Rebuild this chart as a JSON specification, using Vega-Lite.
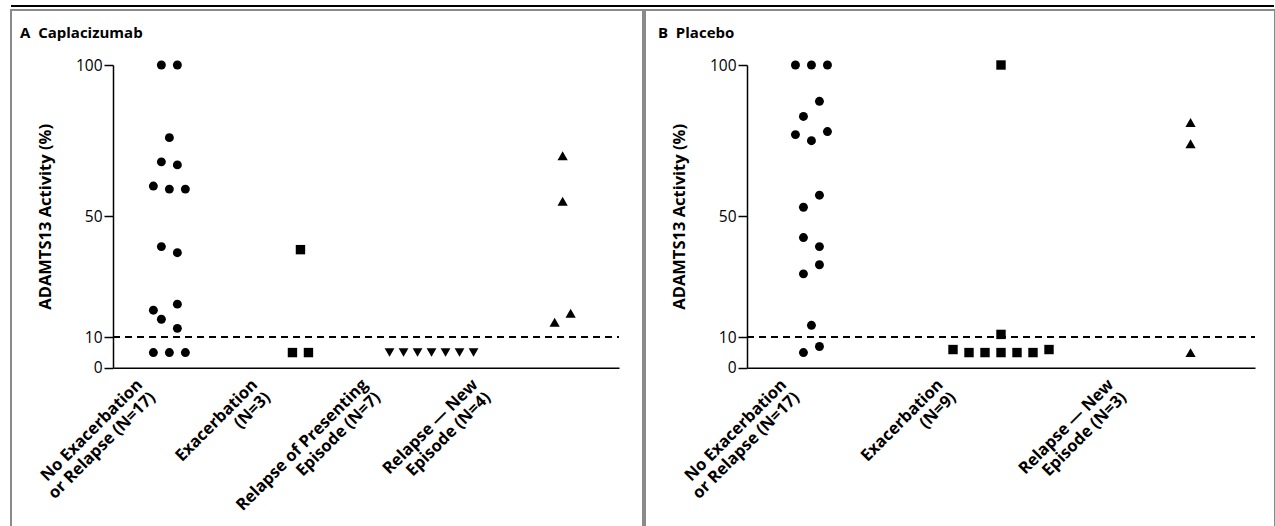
{
  "$schema": "https://vega.github.io/schema/vega-lite/v6.json",
  "padding": {"left": 10, "top": 5, "right": 0, "bottom": 0},
  "background": "white",
  "config": {"font": "Open Sans", "view": {"stroke": null}},
  "datasets": {
    "pts": [
      {"panel": "A", "group": "No Exacerbation|or Relapse (N=17)", "kind": "none", "value": 100, "jitter": -1},
      {"panel": "A", "group": "No Exacerbation|or Relapse (N=17)", "kind": "none", "value": 100, "jitter": 1},
      {"panel": "A", "group": "No Exacerbation|or Relapse (N=17)", "kind": "none", "value": 76, "jitter": 0},
      {"panel": "A", "group": "No Exacerbation|or Relapse (N=17)", "kind": "none", "value": 68, "jitter": -1},
      {"panel": "A", "group": "No Exacerbation|or Relapse (N=17)", "kind": "none", "value": 67, "jitter": 1},
      {"panel": "A", "group": "No Exacerbation|or Relapse (N=17)", "kind": "none", "value": 60, "jitter": -2},
      {"panel": "A", "group": "No Exacerbation|or Relapse (N=17)", "kind": "none", "value": 59, "jitter": 0},
      {"panel": "A", "group": "No Exacerbation|or Relapse (N=17)", "kind": "none", "value": 59, "jitter": 2},
      {"panel": "A", "group": "No Exacerbation|or Relapse (N=17)", "kind": "none", "value": 40, "jitter": -1},
      {"panel": "A", "group": "No Exacerbation|or Relapse (N=17)", "kind": "none", "value": 38, "jitter": 1},
      {"panel": "A", "group": "No Exacerbation|or Relapse (N=17)", "kind": "none", "value": 21, "jitter": 1},
      {"panel": "A", "group": "No Exacerbation|or Relapse (N=17)", "kind": "none", "value": 19, "jitter": -2},
      {"panel": "A", "group": "No Exacerbation|or Relapse (N=17)", "kind": "none", "value": 16, "jitter": -1},
      {"panel": "A", "group": "No Exacerbation|or Relapse (N=17)", "kind": "none", "value": 13, "jitter": 1},
      {"panel": "A", "group": "No Exacerbation|or Relapse (N=17)", "kind": "none", "value": 5, "jitter": -2},
      {"panel": "A", "group": "No Exacerbation|or Relapse (N=17)", "kind": "none", "value": 5, "jitter": 0},
      {"panel": "A", "group": "No Exacerbation|or Relapse (N=17)", "kind": "none", "value": 5, "jitter": 2},
      {"panel": "A", "group": "Exacerbation|(N=3)", "kind": "exac", "value": 39, "jitter": 0},
      {"panel": "A", "group": "Exacerbation|(N=3)", "kind": "exac", "value": 5, "jitter": -1},
      {"panel": "A", "group": "Exacerbation|(N=3)", "kind": "exac", "value": 5, "jitter": 1},
      {"panel": "A", "group": "Relapse of Presenting|Episode (N=7)", "kind": "present", "value": 5, "jitter": -5.25},
      {"panel": "A", "group": "Relapse of Presenting|Episode (N=7)", "kind": "present", "value": 5, "jitter": -3.5},
      {"panel": "A", "group": "Relapse of Presenting|Episode (N=7)", "kind": "present", "value": 5, "jitter": -1.75},
      {"panel": "A", "group": "Relapse of Presenting|Episode (N=7)", "kind": "present", "value": 5, "jitter": 0},
      {"panel": "A", "group": "Relapse of Presenting|Episode (N=7)", "kind": "present", "value": 5, "jitter": 1.75},
      {"panel": "A", "group": "Relapse of Presenting|Episode (N=7)", "kind": "present", "value": 5, "jitter": 3.5},
      {"panel": "A", "group": "Relapse of Presenting|Episode (N=7)", "kind": "present", "value": 5, "jitter": 5.25},
      {"panel": "A", "group": "Relapse — New|Episode (N=4)", "kind": "new", "value": 70, "jitter": 0},
      {"panel": "A", "group": "Relapse — New|Episode (N=4)", "kind": "new", "value": 55, "jitter": 0},
      {"panel": "A", "group": "Relapse — New|Episode (N=4)", "kind": "new", "value": 18, "jitter": 1},
      {"panel": "A", "group": "Relapse — New|Episode (N=4)", "kind": "new", "value": 15, "jitter": -1},
      {"panel": "B", "group": "No Exacerbation|or Relapse (N=17)", "kind": "none", "value": 100, "jitter": -2},
      {"panel": "B", "group": "No Exacerbation|or Relapse (N=17)", "kind": "none", "value": 100, "jitter": 0},
      {"panel": "B", "group": "No Exacerbation|or Relapse (N=17)", "kind": "none", "value": 100, "jitter": 2},
      {"panel": "B", "group": "No Exacerbation|or Relapse (N=17)", "kind": "none", "value": 88, "jitter": 1},
      {"panel": "B", "group": "No Exacerbation|or Relapse (N=17)", "kind": "none", "value": 83, "jitter": -1},
      {"panel": "B", "group": "No Exacerbation|or Relapse (N=17)", "kind": "none", "value": 78, "jitter": 2},
      {"panel": "B", "group": "No Exacerbation|or Relapse (N=17)", "kind": "none", "value": 77, "jitter": -2},
      {"panel": "B", "group": "No Exacerbation|or Relapse (N=17)", "kind": "none", "value": 75, "jitter": 0},
      {"panel": "B", "group": "No Exacerbation|or Relapse (N=17)", "kind": "none", "value": 57, "jitter": 1},
      {"panel": "B", "group": "No Exacerbation|or Relapse (N=17)", "kind": "none", "value": 53, "jitter": -1},
      {"panel": "B", "group": "No Exacerbation|or Relapse (N=17)", "kind": "none", "value": 43, "jitter": -1},
      {"panel": "B", "group": "No Exacerbation|or Relapse (N=17)", "kind": "none", "value": 40, "jitter": 1},
      {"panel": "B", "group": "No Exacerbation|or Relapse (N=17)", "kind": "none", "value": 34, "jitter": 1},
      {"panel": "B", "group": "No Exacerbation|or Relapse (N=17)", "kind": "none", "value": 31, "jitter": -1},
      {"panel": "B", "group": "No Exacerbation|or Relapse (N=17)", "kind": "none", "value": 14, "jitter": 0},
      {"panel": "B", "group": "No Exacerbation|or Relapse (N=17)", "kind": "none", "value": 7, "jitter": 1},
      {"panel": "B", "group": "No Exacerbation|or Relapse (N=17)", "kind": "none", "value": 5, "jitter": -1},
      {"panel": "B", "group": "Exacerbation|(N=9)", "kind": "exac", "value": 100, "jitter": 0},
      {"panel": "B", "group": "Exacerbation|(N=9)", "kind": "exac", "value": 11, "jitter": 0},
      {"panel": "B", "group": "Exacerbation|(N=9)", "kind": "exac", "value": 6, "jitter": -6},
      {"panel": "B", "group": "Exacerbation|(N=9)", "kind": "exac", "value": 5, "jitter": -4},
      {"panel": "B", "group": "Exacerbation|(N=9)", "kind": "exac", "value": 5, "jitter": -2},
      {"panel": "B", "group": "Exacerbation|(N=9)", "kind": "exac", "value": 5, "jitter": 0},
      {"panel": "B", "group": "Exacerbation|(N=9)", "kind": "exac", "value": 5, "jitter": 2},
      {"panel": "B", "group": "Exacerbation|(N=9)", "kind": "exac", "value": 5, "jitter": 4},
      {"panel": "B", "group": "Exacerbation|(N=9)", "kind": "exac", "value": 6, "jitter": 6},
      {"panel": "B", "group": "Relapse — New|Episode (N=3)", "kind": "new", "value": 81, "jitter": 0},
      {"panel": "B", "group": "Relapse — New|Episode (N=3)", "kind": "new", "value": 74, "jitter": 0},
      {"panel": "B", "group": "Relapse — New|Episode (N=3)", "kind": "new", "value": 5, "jitter": 0}
    ]
  },
  "vconcat": [
    {
      "width": 1263,
      "height": 2,
      "view": {"fill": "black", "stroke": null},
      "data": {"values": []},
      "mark": {"type": "rule"},
      "encoding": {}
    },
    {
      "hconcat": [
        {
          "width": 632,
          "height": 530,
          "view": {"stroke": "#8a8a8a", "strokeWidth": 2},
          "title": {"text": "A\u00a0\u00a0Caplacizumab", "anchor": "start", "frame": "group", "orient": "top", "offset": -26, "dy": 17, "baseline": "alphabetic", "dx": 9, "fontSize": 15, "fontWeight": "bold", "font": "Open Sans", "color": "black"},
          "data": {"name": "pts"},
          "transform": [{"filter": "datum.panel === 'A'"}],
          "layer": [
            {
              "mark": {"type": "point", "filled": true, "color": "black", "opacity": 1},
              "encoding": {
                "x": {"field": "group", "type": "nominal", "sort": null,
                  "scale": {"type": "point", "domain": ["No Exacerbation|or Relapse (N=17)", "Exacerbation|(N=3)", "Relapse of Presenting|Episode (N=7)", "Relapse — New|Episode (N=4)"], "range": [102, 608], "padding": 0.43},
                  "axis": {"title": null, "offset": -172.3, "ticks": false, "domainColor": "black", "domainWidth": 1.5, "labelAngle": -45, "labelAlign": "right", "labelBaseline": "middle", "labelFont": "Open Sans", "labelFontSize": 16.5, "labelFontWeight": "bold", "labelColor": "black", "labelExpr": "split(datum.label, '|')", "labelPadding": 14, "labelLineHeight": 18, "labelOverlap": false, "labelLimit": 0,
                    "labelOffset": {"condition": [
                      {"test": "datum.value === 'No Exacerbation|or Relapse (N=17)'", "value": -30},
                      {"test": "datum.value === 'Exacerbation|(N=3)'", "value": -46},
                      {"test": "datum.value === 'Relapse of Presenting|Episode (N=7)'", "value": -67}
                    ], "value": -88}}},
                "xOffset": {"field": "jitter", "type": "quantitative", "scale": {"domain": [-8, 8], "range": [-64, 64]}},
                "y": {"field": "value", "type": "quantitative",
                  "scale": {"domain": [0, 100], "range": [357.7, 55], "nice": false},
                  "axis": {"values": [0, 10, 50, 100], "offset": -102, "grid": false, "domainColor": "black", "domainWidth": 1.5, "tickColor": "black", "tickWidth": 1.5, "tickSize": 9, "labelFont": "Open Sans", "labelFontSize": 15.5, "labelColor": "black", "labelPadding": 2, "title": "ADAMTS13 Activity (%)", "titleFont": "Open Sans", "titleFontSize": 16.5, "titleFontWeight": "bold", "titleColor": "black", "titlePadding": 22}},
                "shape": {"field": "kind", "type": "nominal", "scale": {"domain": ["none", "exac", "present", "new"], "range": ["circle", "square", "triangle-down", "triangle-up"]}, "legend": null},
                "size": {"field": "kind", "type": "ordinal", "scale": {"domain": ["none", "exac", "present", "new"], "range": [80, 105, 85, 95]}, "legend": null}
              }
            },
            {
              "mark": {"type": "rule", "strokeDash": [7, 5], "strokeWidth": 1.2, "color": "black"},
              "encoding": {
                "y": {"datum": 10, "type": "quantitative"},
                "x": {"datum": 0, "type": "quantitative", "scale": {"domain": [0, 1], "range": [102, 608]}, "axis": null},
                "x2": {"datum": 1}
              }
            }
          ],
          "resolve": {"scale": {"x": "independent"}}
        },
        {
          "width": 630,
          "height": 530,
          "view": {"stroke": "#8a8a8a", "strokeWidth": 2},
          "title": {"text": "B\u00a0\u00a0Placebo", "anchor": "start", "frame": "group", "orient": "top", "offset": -26, "dy": 17, "baseline": "alphabetic", "dx": 13, "fontSize": 15, "fontWeight": "bold", "font": "Open Sans", "color": "black"},
          "data": {"name": "pts"},
          "transform": [{"filter": "datum.panel === 'B'"}],
          "layer": [
            {
              "mark": {"type": "point", "filled": true, "color": "black", "opacity": 1},
              "encoding": {
                "x": {"field": "group", "type": "nominal", "sort": null,
                  "scale": {"type": "point", "domain": ["No Exacerbation|or Relapse (N=17)", "Exacerbation|(N=9)", "Relapse — New|Episode (N=3)"], "range": [102, 610], "padding": 0.34},
                  "axis": {"title": null, "offset": -172.3, "ticks": false, "domainColor": "black", "domainWidth": 1.5, "labelAngle": -45, "labelAlign": "right", "labelBaseline": "middle", "labelFont": "Open Sans", "labelFontSize": 16.5, "labelFontWeight": "bold", "labelColor": "black", "labelExpr": "split(datum.label, '|')", "labelPadding": 14, "labelLineHeight": 18, "labelOverlap": false, "labelLimit": 0,
                    "labelOffset": {"condition": [
                      {"test": "datum.value === 'No Exacerbation|or Relapse (N=17)'", "value": -28},
                      {"test": "datum.value === 'Exacerbation|(N=9)'", "value": -61}
                    ], "value": -80}}},
                "xOffset": {"field": "jitter", "type": "quantitative", "scale": {"domain": [-8, 8], "range": [-64, 64]}},
                "y": {"field": "value", "type": "quantitative",
                  "scale": {"domain": [0, 100], "range": [357.7, 55], "nice": false},
                  "axis": {"values": [0, 10, 50, 100], "offset": -102, "grid": false, "domainColor": "black", "domainWidth": 1.5, "tickColor": "black", "tickWidth": 1.5, "tickSize": 9, "labelFont": "Open Sans", "labelFontSize": 15.5, "labelColor": "black", "labelPadding": 2, "title": "ADAMTS13 Activity (%)", "titleFont": "Open Sans", "titleFontSize": 16.5, "titleFontWeight": "bold", "titleColor": "black", "titlePadding": 22}},
                "shape": {"field": "kind", "type": "nominal", "scale": {"domain": ["none", "exac", "present", "new"], "range": ["circle", "square", "triangle-down", "triangle-up"]}, "legend": null},
                "size": {"field": "kind", "type": "ordinal", "scale": {"domain": ["none", "exac", "present", "new"], "range": [80, 100, 85, 90]}, "legend": null}
              }
            },
            {
              "mark": {"type": "rule", "strokeDash": [7, 5], "strokeWidth": 1.2, "color": "black"},
              "encoding": {
                "y": {"datum": 10, "type": "quantitative"},
                "x": {"datum": 0, "type": "quantitative", "scale": {"domain": [0, 1], "range": [102, 610]}, "axis": null},
                "x2": {"datum": 1}
              }
            }
          ],
          "resolve": {"scale": {"x": "independent"}}
        }
      ],
      "spacing": 0
    }
  ],
  "spacing": 2
}
